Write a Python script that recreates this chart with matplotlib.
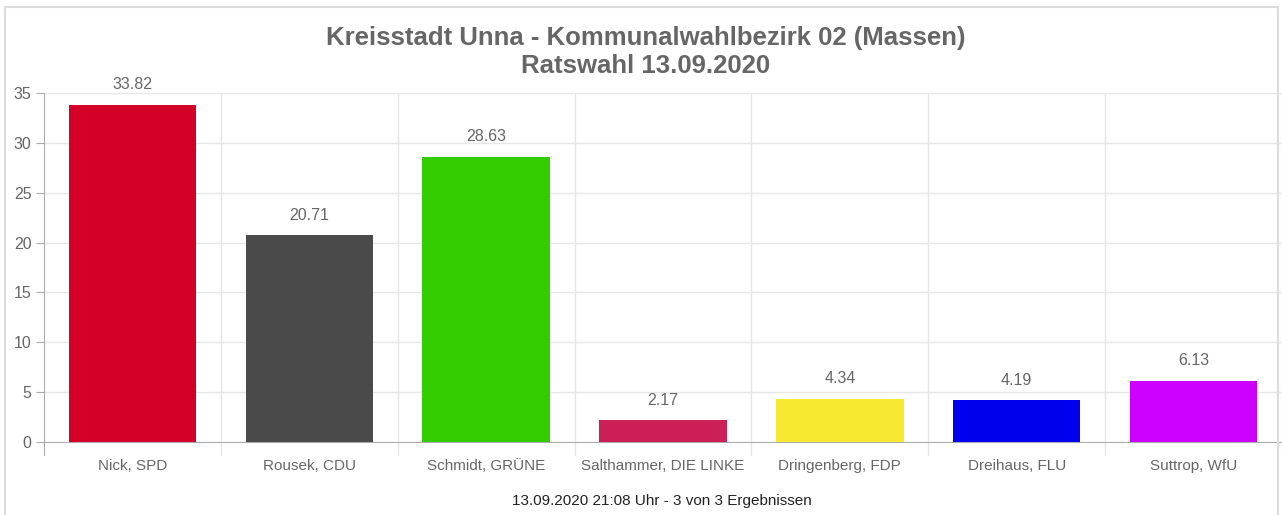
import matplotlib
matplotlib.use("Agg")
import matplotlib.pyplot as plt
from matplotlib.patches import Rectangle

plt.rcParams['font.family'] = ['Liberation Sans', 'DejaVu Sans']

# -- Daten --
kandidaten = ["Nick, SPD", "Rousek, CDU", "Schmidt, GRÜNE", "Salthammer, DIE LINKE",
              "Dringenberg, FDP", "Dreihaus, FLU", "Suttrop, WfU"]
prozent = [33.82, 20.71, 28.63, 2.17, 4.34, 4.19, 6.13]
farben = ["#d50027", "#4a4a4a", "#33cc00", "#cc1f55", "#f7e92f", "#0000ee", "#cc00ff"]
y_ticks = [0, 5, 10, 15, 20, 25, 30, 35]

W, H = 1282, 515
fig = plt.figure(figsize=(W / 100, H / 100), dpi=100)
fig.patch.set_facecolor("white")

# heller Rahmen um das ganze Diagramm
fig.add_artist(Rectangle((5 / W, -0.02), (1273) / W, 1 - 7 / H + 0.02,
                         transform=fig.transFigure, fill=False,
                         edgecolor="#dcdcdc", linewidth=1.5))

ax = fig.add_axes([44 / W, (H - 442) / H, (W - 44) / W, (442 - 93) / H])
x = list(range(len(kandidaten)))
bars = ax.bar(x, prozent, width=0.72, color=farben, zorder=3)

ax.set_xlim(-0.5, len(kandidaten) - 0.5)
ax.set_ylim(0, 35)
ax.set_yticks(y_ticks)
ax.set_xticks(x)
ax.set_xticklabels(kandidaten, fontsize=11, color="#666666")
ax.tick_params(axis='x', length=0, pad=12)
ax.tick_params(axis='y', length=6, color="#aaaaaa", labelsize=11.5,
               labelcolor="#666666", pad=3)

for s in ["top", "right"]:
    ax.spines[s].set_visible(False)
ax.spines["left"].set_color("#aaaaaa")
ax.spines["bottom"].set_color("#aaaaaa")
ax.spines["left"].set_bounds(-1.3, 35)

# Gitterlinien
for yv in y_ticks[1:]:
    ax.axhline(yv, color="#e6e6e6", linewidth=1, zorder=0)
for i in range(1, len(kandidaten) + 1):
    ax.plot([i - 0.5, i - 0.5], [-1.3, 35], color="#e6e6e6", linewidth=1,
            zorder=0, clip_on=False)

# Werte über den Balken
for bar, val in zip(bars, prozent):
    ax.annotate(f"{val:.2f}", (bar.get_x() + bar.get_width() / 2, val),
                textcoords="offset points", xytext=(0, 9),
                ha='center', va='bottom', fontsize=11.5, color="#666666")

fig.text(646 / W, 1 - 38 / H, "Kreisstadt Unna - Kommunalwahlbezirk 02 (Massen)",
         ha='center', va='center', fontsize=18.5, fontweight='bold', color="#666666")
fig.text(646 / W, 1 - 66 / H, "Ratswahl 13.09.2020",
         ha='center', va='center', fontsize=18.5, fontweight='bold', color="#666666")
fig.text(662 / W, 1 - 501 / H, "13.09.2020 21:08 Uhr - 3 von 3 Ergebnissen",
         ha='center', va='center', fontsize=11, color="#222222")

fig.savefig("out.png", dpi=100)
